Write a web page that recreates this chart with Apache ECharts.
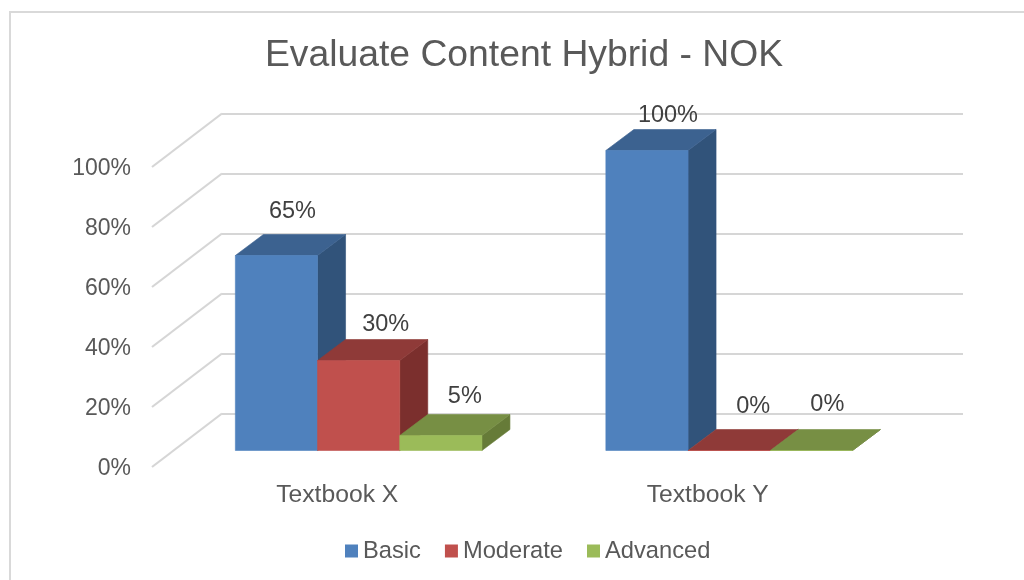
<!DOCTYPE html>
<html>
<head>
<meta charset="utf-8">
<title>Evaluate Content Hybrid - NOK</title>
<script src="https://cdn.jsdelivr.net/npm/echarts@6/dist/echarts.min.js"></script>
<style>
	html, body { margin: 0; padding: 0; background: #fff; }
	#main { width: 1024px; height: 580px; }
</style>
</head>
<body>
<div id="main"></div>
<script type="text/javascript">
	var categories = ['Textbook X', 'Textbook Y'];
	var ticks = [0, 20, 40, 60, 80, 100];
	var basic = [65, 100];
	var moderate = [30, 0];
	var advanced = [5, 0];

	// 3D look: pixel depth of the walls and bars, bar width as share of the band
	var FONT = '"Liberation Sans", Arial, sans-serif';
	var wallDepth = [70, -53.5];
	var barDepth = [28, -21];
	var barShare = 82.2 / 370.5;

	// label nudges from the bar's front top centre, same order as the series
	var labelShift = {
		Basic: [[16, -44], [21, -35]],
		Moderate: [[27, -36], [24, -43.5]],
		Advanced: [[24, -39], [16, -46]]
	};

	var chartDom = document.getElementById('main');
	var myChart = echarts.init(chartDom);

	// colors: [front, top, side]
	function barSeries(name, values, slot, colors) {
		return {
			name: name,
			type: 'custom',
			xAxisIndex: 2,
			yAxisIndex: 2,
			z: 5 + slot,
			itemStyle: { color: colors[0] },
			encode: { x: 0, y: 1 },
			data: values.map(function (v, i) { return [i, v]; }),
			renderItem: function (params, api) {
				var catIndex = api.value(0);
				var value = api.value(1);
				var band = api.size([1, 0])[0];
				var w = band * barShare;
				var center = api.coord([catIndex, value]);
				var base = api.coord([catIndex, 0]);
				var x0 = center[0] - w * 1.5 + slot * w;
				var x1 = x0 + w;
				var top = center[1];
				var bottom = base[1];
				var dx = barDepth[0];
				var dy = barDepth[1];
				var shift = labelShift[name][catIndex];
				var children = [{
					type: 'polygon',
					shape: { points: [[x1, top], [x1 + dx, top + dy], [x1 + dx, bottom + dy], [x1, bottom]] },
					style: { fill: colors[2], stroke: colors[2], lineWidth: 0.6 }
				}, {
					type: 'polygon',
					shape: { points: [[x0, top], [x0 + dx, top + dy], [x1 + dx, top + dy], [x1, top]] },
					style: { fill: colors[1], stroke: colors[1], lineWidth: 0.6 }
				}, {
					type: 'rect',
					shape: { x: x0, y: top, width: w, height: bottom - top },
					style: { fill: colors[0], stroke: colors[0], lineWidth: 0.6 }
				}, {
					type: 'text',
					z2: 50,
					style: {
						text: value + '%',
						x: x0 + w / 2 + shift[0],
						y: top + shift[1],
						fill: '#404040',
						font: '23.5px ' + FONT,
						align: 'center',
						verticalAlign: 'middle'
					}
				}];
				return { type: 'group', children: children };
			}
		};
	}

	var option = {
		animation: false,
		backgroundColor: '#fff',
		title: {
			text: 'Evaluate Content Hybrid - NOK',
			left: 519,
			top: 32,
			textAlign: 'center',
			textStyle: { color: '#595959', fontSize: 37.3, fontWeight: 'normal', fontFamily: FONT }
		},
		legend: {
			left: 345,
			top: 539,
			padding: 0,
			itemWidth: 13,
			itemHeight: 13,
			itemGap: 24,
			icon: 'rect',
			textStyle: { color: '#595959', fontSize: 23.7, fontFamily: FONT },
			data: ['Basic', 'Moderate', 'Advanced']
		},
		graphic: [{
			type: 'rect',
			silent: true,
			z: -1,
			shape: { x: 10, y: 12, width: 1040, height: 600 },
			style: { fill: 'none', stroke: '#d9d9d9', lineWidth: 2 }
		}],
		grid: [
			{ left: 152, top: 169, width: 741, height: 300 },  // front edge: axis labels
			{ left: 222, top: 113.5, width: 741, height: 300 }, // back wall
			{ left: 173.4, top: 150.5, width: 741, height: 300 } // plane of the bars
		],
		xAxis: [0, 1, 2].map(function (i) {
			return {
				type: 'category',
				gridIndex: i,
				data: categories,
				show: i === 0,
				axisLine: { show: false },
				axisTick: { show: false },
				axisLabel: { color: '#595959', fontSize: 24.7, fontFamily: FONT, margin: 14 }
			};
		}),
		yAxis: [0, 1, 2].map(function (i) {
			return {
				type: 'value',
				gridIndex: i,
				min: 0,
				max: 100,
				interval: 20,
				show: i !== 2,
				axisLine: { show: false },
				axisTick: { show: false },
				splitLine: { show: i === 1, lineStyle: { color: '#d6d6d6', width: 2.2 } },
				axisLabel: {
					show: i === 0,
					color: '#595959',
					fontSize: 23,
					fontFamily: FONT,
					margin: 21,
					formatter: '{value}%'
				}
			};
		}),
		series: [{
			// side wall lines, from the back wall out to the axis
			name: 'wall',
			type: 'custom',
			xAxisIndex: 1,
			yAxisIndex: 1,
			silent: true,
			z: 1,
			encode: { y: 0 },
			data: ticks.map(function (t) { return [t]; }),
			renderItem: function (params, api) {
				var y = api.coord([0, api.value(0)])[1];
				var x = params.coordSys.x;
				return {
					type: 'line',
					shape: { x1: x, y1: y, x2: x - wallDepth[0], y2: y - wallDepth[1] },
					style: { stroke: '#d6d6d6', lineWidth: 2.2 }
				};
			}
		},
			barSeries('Basic', basic, 0, ['#4f81bd', '#3c6290', '#31537a']),
			barSeries('Moderate', moderate, 1, ['#c0504d', '#8f3a38', '#7b2f2d']),
			barSeries('Advanced', advanced, 2, ['#9bbb59', '#778f44', '#667b38'])
		]
	};

	option && myChart.setOption(option, true);
</script>
</body>
</html>
